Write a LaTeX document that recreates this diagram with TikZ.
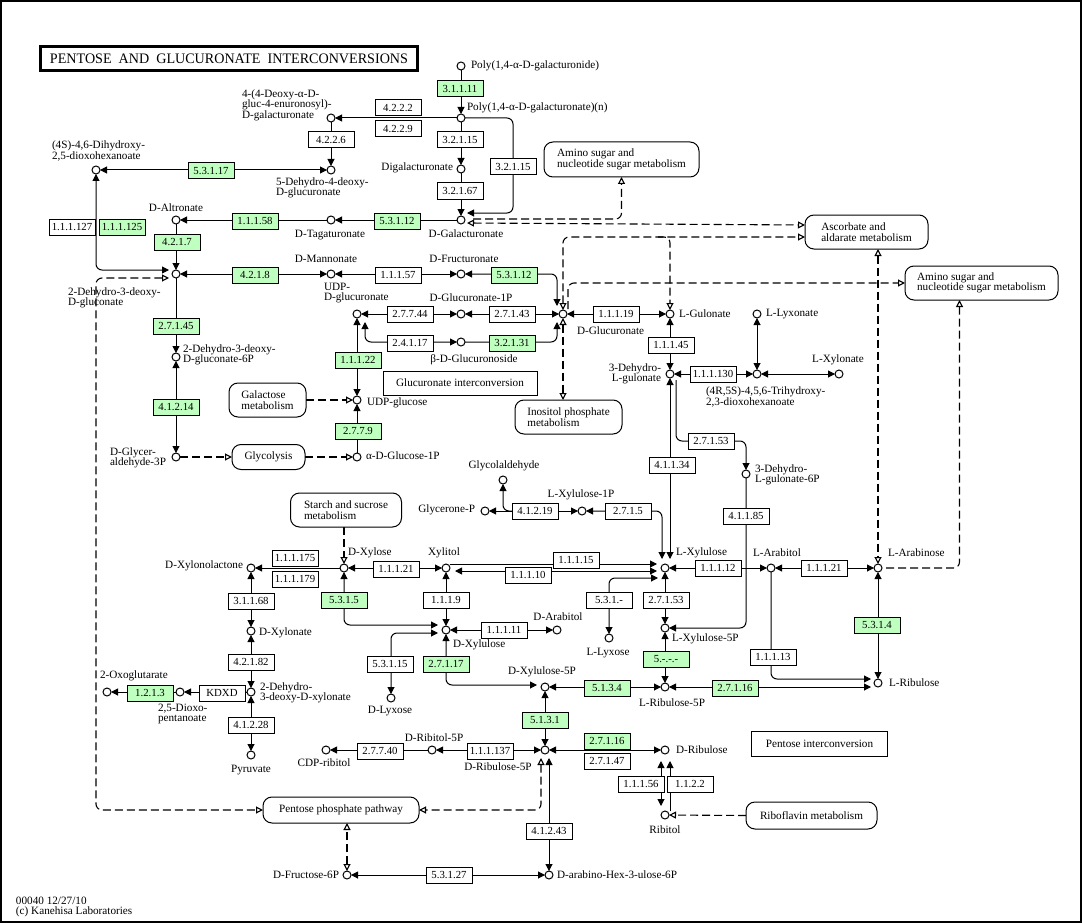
\documentclass[tikz,border=0pt]{standalone}
\usepackage{fontspec}
\setmainfont{Liberation Serif}
\usetikzlibrary{arrows.meta}
\pgfdeclarelayer{bg}
\pgfsetlayers{bg,main}
\definecolor{kgreen}{HTML}{BFFFBF}
\newcommand\kglf{\fontsize{11.2}{10.6}\selectfont}
\newcommand\kgef{\fontsize{10.8}{10.8}\selectfont}
\begin{document}
\begin{tikzpicture}[x=1pt,y=-1pt,
  every node/.style={inner sep=0pt,outer sep=0pt},
  cpd/.style={circle,draw,fill=white,minimum size=8pt,line width=1pt},
  ecb/.style={draw,fill=white,minimum width=46pt,minimum height=16pt,font=\kgef,line width=1pt},
  ecg/.style={ecb,fill=kgreen},
  mapb/.style={draw,fill=white,rounded corners=9pt,align=left,font=\kglf,line width=1pt},
  rectb/.style={draw,fill=white,font=\kglf,line width=1pt},
  lb/.style={font=\kglf,align=left},
  lbr/.style={font=\kglf,align=right},
  ln/.style={line width=1pt,rounded corners=6pt},
  fw/.style={ln,-{Triangle[length=7pt,width=7pt]}},
  bw/.style={ln,{Triangle[length=7pt,width=7pt]}-{Triangle[length=7pt,width=7pt]}},
  dl/.style={line width=1.1pt,dash pattern=on 8pt off 4pt,rounded corners=6pt},
  dfw/.style={dl,-{Triangle[open,length=7pt,width=7pt]}},
  dbw/.style={dl,{Triangle[open,length=7pt,width=7pt]}-{Triangle[open,length=7pt,width=7pt]}},
  dsw/.style={dl,{Triangle[open,length=7pt,width=7pt]}-}
]
\useasboundingbox (0,0) rectangle (1082,923);
\draw[line width=2pt] (1,1) rectangle (1081,922);

% title
\node[draw,line width=3pt,minimum width=377pt,minimum height=24pt] (title) at (229,58.5)
  {\resizebox{358pt}{9.6pt}{\fontsize{12}{12}\selectfont PENTOSE\ \ AND\ \ GLUCURONATE\ \ INTERCONVERSIONS}};

% ---------------- compounds
\node[cpd] (polyg) at (461,66) {};
\node[cpd] (polyn) at (461,118) {};
\node[cpd] (deoxyg) at (331,118) {};
\node[cpd] (dehydro4) at (331,170) {};
\node[cpd] (digal) at (461,169) {};
\node[cpd] (galact) at (461,220) {};
\node[cpd] (dhdx) at (96,170) {};
\node[cpd] (altr) at (176,220) {};
\node[cpd] (tagat) at (331,220) {};
\node[cpd] (kdg) at (176,274) {};
\node[cpd] (mannon) at (331,274) {};
\node[cpd] (fructur) at (461,274) {};
\node[cpd] (udpgluc) at (357,314) {};
\node[cpd] (glcur1p) at (461,314) {};
\node[cpd] (bglcs) at (461,342) {};
\node[cpd] (glcur) at (563,314) {};
\node[cpd] (lgul) at (670,314) {};
\node[cpd] (llyx) at (757,314) {};
\node[cpd] (dhlg) at (670,374) {};
\node[cpd] (trihyd) at (757,374) {};
\node[cpd] (lxyn) at (839,374) {};
\node[cpd] (dhlg6p) at (746,474) {};
\node[cpd] (kdg6p) at (176,357) {};
\node[cpd] (gap) at (176,457) {};
\node[cpd] (udpg) at (357,400) {};
\node[cpd] (aglc1p) at (357,457) {};
\node[cpd] (glyald) at (503,480) {};
\node[cpd] (glyP) at (485,511) {};
\node[cpd] (lxyl1p) at (582,511) {};
\node[cpd] (lxyl) at (665,568) {};
\node[cpd] (larabitol) at (771,568) {};
\node[cpd] (larabinose) at (878,568) {};
\node[cpd] (dxylose) at (344,568) {};
\node[cpd] (xylitol) at (446,568) {};
\node[cpd] (dxylono) at (251,568) {};
\node[cpd] (dxylonate) at (251,631) {};
\node[cpd] (kdx) at (251,692) {};
\node[cpd] (dioxo) at (180,692) {};
\node[cpd] (oxoglut) at (107,692) {};
\node[cpd] (pyruvate) at (251,755) {};
\node[cpd] (dxylulose) at (446,630) {};
\node[cpd] (darabitol) at (557,630) {};
\node[cpd] (dlyxose) at (391,698) {};
\node[cpd] (llyxose) at (609,638) {};
\node[cpd] (lxyl5p) at (665,628) {};
\node[cpd] (lribu5p) at (665,687) {};
\node[cpd] (lribu) at (878,683) {};
\node[cpd] (dxyl5p) at (545,687) {};
\node[cpd] (dribu5p) at (545,750) {};
\node[cpd] (dribitol5p) at (432,750) {};
\node[cpd] (cdpribitol) at (326,750) {};
\node[cpd] (dribu) at (665,750) {};
\node[cpd] (ribitol) at (665,815) {};
\node[cpd] (dfruc6p) at (347,875) {};
\node[cpd] (dahex) at (549,875) {};

% ---------------- compound labels
\node[lb,anchor=west] (polygL) at (471,66) {Poly(1,4-α-D-galacturonide)};
\node[lb,anchor=west] (polynL) at (467,108) {Poly(1,4-α-D-galacturonate)(n)};
\node[lb,anchor=west] (deoxygL) at (242,105) {4-(4-Deoxy-α-D-\\gluc-4-enuronosyl)-\\D-galacturonate};
\node[lb,anchor=west] (dehydro4L) at (276,188) {5-Dehydro-4-deoxy-\\D-glucuronate};
\node[lb,anchor=east] (digalL) at (453,168) {Digalacturonate};
\node[lb] (galactL) at (466,234) {D-Galacturonate};
\node[lb,anchor=west] (dhdxL) at (52,151) {(4S)-4,6-Dihydroxy-\\2,5-dioxohexanoate};
\node[lb] (altrL) at (176,208) {D-Altronate};
\node[lb] (tagatL) at (330,235) {D-Tagaturonate};
\node[lb,anchor=west] (kdgL) at (68,298) {2-Dehydro-3-deoxy-\\D-gluconate};
\node[lb] (mannonL) at (326,259) {D-Mannonate};
\node[lb] (fructurL) at (464,259) {D-Fructuronate};
\node[lb,anchor=west] (udpglucL) at (324,293) {UDP-\\D-glucuronate};
\node[lb] (glcur1pL) at (471,298) {D-Glucuronate-1P};
\node[lb] (bglcsL) at (474,360) {β-D-Glucuronoside};
\node[lb,anchor=west] (glcurL) at (577,331) {D-Glucuronate};
\node[lb,anchor=west] (lgulL) at (679,314) {L-Gulonate};
\node[lb,anchor=west] (llyxL) at (766,314) {L-Lyxonate};
\node[lbr,anchor=east] (dhlgL) at (661,374) {3-Dehydro-\\L-gulonate};
\node[lb,anchor=west] (trihydL) at (706,397) {(4R,5S)-4,5,6-Trihydroxy-\\2,3-dioxohexanoate};
\node[lb] (lxynL) at (838,360) {L-Xylonate};
\node[lb,anchor=west] (dhlg6pL) at (755,475) {3-Dehydro-\\L-gulonate-6P};
\node[lb,anchor=west] (kdg6pL) at (183,355) {2-Dehydro-3-deoxy-\\D-gluconate-6P};
\node[lb,anchor=west] (gapL) at (110,458) {D-Glycer-\\aldehyde-3P};
\node[lb,anchor=west] (udpgL) at (367,403) {UDP-glucose};
\node[lb,anchor=west] (aglc1pL) at (366,456) {α-D-Glucose-1P};
\node[lb] (glyaldL) at (504,466) {Glycolaldehyde};
\node[lb,anchor=east] (glyPL) at (475,510) {Glycerone-P};
\node[lb] (lxyl1pL) at (581,495) {L-Xylulose-1P};
\node[lb,anchor=west] (lxylL) at (676,553) {L-Xylulose};
\node[lb] (larabitolL) at (777,553) {L-Arabitol};
\node[lb,anchor=west] (larabinoseL) at (888,553) {L-Arabinose};
\node[lb,anchor=west] (dxyloseL) at (348,553) {D-Xylose};
\node[lb] (xylitolL) at (444,553) {Xylitol};
\node[lb,anchor=east] (dxylonoL) at (243,566) {D-Xylonolactone};
\node[lb,anchor=west] (dxylonateL) at (259,633) {D-Xylonate};
\node[lb,anchor=west] (kdxL) at (260,693) {2-Dehydro-\\3-deoxy-D-xylonate};
\node[lb,anchor=west] (dioxoL) at (158,714) {2,5-Dioxo-\\pentanoate};
\node[lb,anchor=west] (oxoglutL) at (100,676) {2-Oxoglutarate};
\node[lb] (pyruvateL) at (251,770) {Pyruvate};
\node[lb,anchor=west] (dxyluloseL) at (453,645) {D-Xylulose};
\node[lb] (darabitolL) at (558,617) {D-Arabitol};
\node[lb] (dlyxoseL) at (390,711) {D-Lyxose};
\node[lb] (llyxoseL) at (608,653) {L-Lyxose};
\node[lb,anchor=west] (lxyl5pL) at (672,639) {L-Xylulose-5P};
\node[lb] (lribu5pL) at (672,703) {L-Ribulose-5P};
\node[lb,anchor=west] (lribuL) at (889,683) {L-Ribulose};
\node[lb] (dxyl5pL) at (542,672) {D-Xylulose-5P};
\node[lb] (dribu5pL) at (498,767) {D-Ribulose-5P};
\node[lb] (dribitol5pL) at (434,738) {D-Ribitol-5P};
\node[lb] (cdpribitolL) at (324,763) {CDP-ribitol};
\node[lb,anchor=west] (dribuL) at (676,750) {D-Ribulose};
\node[lb] (ribitolL) at (665,830) {Ribitol};
\node[lb,anchor=east] (dfruc6pL) at (339,875) {D-Fructose-6P};
\node[lb,anchor=west] (dahexL) at (557,875) {D-arabino-Hex-3-ulose-6P};

% ---------------- enzyme boxes
\node[ecg] (e1) at (460,89) {3.1.1.11};
\node[ecb] (e2) at (398,108) {4.2.2.2};
\node[ecb] (e3) at (398,129) {4.2.2.9};
\node[ecb] (e4) at (331,140) {4.2.2.6};
\node[ecb] (e5) at (460,140) {3.2.1.15};
\node[ecb] (e6) at (513,167) {3.2.1.15};
\node[ecb] (e7) at (460,191) {3.2.1.67};
\node[ecg] (e8) at (211,171) {5.3.1.17};
\node[ecg] (e9) at (255,221) {1.1.1.58};
\node[ecg] (e10) at (397,221) {5.3.1.12};
\node[ecb] (e11) at (72,227) {1.1.1.127};
\node[ecg] (e12) at (122,227) {1.1.1.125};
\node[ecg] (e13) at (177,242) {4.2.1.7};
\node[ecg] (e14) at (255,275) {4.2.1.8};
\node[ecb] (e15) at (398,275) {1.1.1.57};
\node[ecg] (e16) at (514,275) {5.3.1.12};
\node[ecb] (e17) at (616,314) {1.1.1.19};
\node[ecb] (e18) at (410,314) {2.7.7.44};
\node[ecb] (e19) at (512,314) {2.7.1.43};
\node[ecb] (e20) at (410,343) {2.4.1.17};
\node[ecg] (e21) at (512,343) {3.2.1.31};
\node[ecg] (e22) at (358,360) {1.1.1.22};
\node[ecg] (e23) at (358,431) {2.7.7.9};
\node[ecg] (e24) at (176,326) {2.7.1.45};
\node[ecg] (e25) at (176,407) {4.1.2.14};
\node[ecb] (e26) at (671,345) {1.1.1.45};
\node[ecb] (e27) at (713,374) {1.1.1.130};
\node[ecb] (e28) at (711,441) {2.7.1.53};
\node[ecb] (e29) at (672,465) {4.1.1.34};
\node[ecb] (e30) at (746,516) {4.1.1.85};
\node[ecb] (e31) at (628,511) {2.7.1.5};
\node[ecb] (e32) at (535,511) {4.1.2.19};
\node[ecb] (e33) at (295,558) {1.1.1.175};
\node[ecb] (e34) at (295,579) {1.1.1.179};
\node[ecb] (e35) at (396,569) {1.1.1.21};
\node[ecb] (e36) at (576,560) {1.1.1.15};
\node[ecb] (e37) at (528,575) {1.1.1.10};
\node[ecg] (e38) at (344,600) {5.3.1.5};
\node[ecb] (e39) at (446,600) {1.1.1.9};
\node[ecb] (e40) at (504,630) {1.1.1.11};
\node[ecb] (e41) at (390,664) {5.3.1.15};
\node[ecg] (e42) at (446,664) {2.7.1.17};
\node[ecg] (e43) at (545,720) {5.1.3.1};
\node[ecb] (e44) at (380,751) {2.7.7.40};
\node[ecb] (e45) at (490,751) {1.1.1.137};
\node[ecb] (e46) at (609,600) {5.3.1.-};
\node[ecb] (e47) at (666,600) {2.7.1.53};
\node[ecg] (e48) at (666,659) {5.-.-.-};
\node[ecg] (e49) at (607,688) {5.1.3.4};
\node[ecg] (e50) at (735,688) {2.7.1.16};
\node[ecb] (e51) at (718,568) {1.1.1.12};
\node[ecb] (e52) at (824,568) {1.1.1.21};
\node[ecb] (e53) at (773,657) {1.1.1.13};
\node[ecg] (e54) at (877,625) {5.3.1.4};
\node[ecg] (e55) at (607,741) {2.7.1.16};
\node[ecb] (e56) at (607,761) {2.7.1.47};
\node[ecb] (e57) at (641,784) {1.1.1.56};
\node[ecb] (e58) at (690,784) {1.1.2.2};
\node[ecb] (e59) at (549,831) {4.1.2.43};
\node[ecb] (e60) at (449,875) {5.3.1.27};
\node[ecb] (e61) at (251,601) {3.1.1.68};
\node[ecb] (e62) at (251,662) {4.2.1.82};
\node[ecb] (e63) at (222,693) {KDXD};
\node[ecg] (e64) at (150,693) {1.2.1.3};
\node[ecb] (e65) at (251,725) {4.1.2.28};

% ---------------- maps and titles
\node[mapb,minimum width=155pt,minimum height=35pt] (amino1) at (621.5,159.5) {Amino sugar and\\nucleotide sugar metabolism};
\node[mapb,minimum width=123pt,minimum height=34pt] (ascorb) at (866.5,232) {Ascorbate and\\aldarate metabolism};
\node[mapb,minimum width=153pt,minimum height=34pt] (amino2) at (981.5,283) {Amino sugar and\\nucleotide sugar metabolism};
\node[mapb,minimum width=77pt,minimum height=34pt] (galactose) at (267.5,400) {Galactose\\metabolism};
\node[mapb,minimum width=73pt,minimum height=25pt] (glycolysis) at (268.5,457) {Glycolysis};
\node[mapb,minimum width=107pt,minimum height=34pt] (inositol) at (568.5,417) {Inositol phosphate\\metabolism};
\node[mapb,minimum width=111pt,minimum height=34pt] (starch) at (346,510) {Starch and sucrose\\metabolism};
\node[mapb,minimum width=156pt,minimum height=26pt] (pentosePP) at (341,810) {Pentose phosphate pathway};
\node[mapb,minimum width=131pt,minimum height=27pt] (riboflavin) at (811.5,815.5) {Riboflavin metabolism};
\node[rectb,minimum width=154pt,minimum height=24pt] (glucIC) at (460,383) {Glucuronate interconversion};
\node[rectb,minimum width=136pt,minimum height=25pt] (pentIC) at (819.5,744) {Pentose interconversion};
\node[lb,anchor=west] (copy) at (16,907) {00040 12/27/10\\(c) Kanehisa Laboratories};

% ---------------- connectors
\begin{pgfonlayer}{bg}
\draw[fw] (polyg) -- (polyn);
\draw[fw] (polyn) -- (deoxyg);
\draw[fw] (deoxyg) -- (dehydro4);
\draw[fw] (polyn) -- (digal);
\draw[fw] (digal) -- (galact);
\draw[fw] (polyn) -| (e6.center) |- ([shift={(6,-7)}]galact.center);
\draw[bw] (dhdx) -- (dehydro4);
\draw[fw] (galact) -- (tagat);
\draw[fw] (tagat) -- (altr);
\draw[fw] (altr) -- (kdg);
\draw[bw] (dhdx) |- ([shift={(-7,-4)}]kdg.center);
\draw[bw] (kdg) -- (mannon);
\draw[bw] (mannon) -- (fructur);
\draw[bw] (fructur) -| ([shift={(-6,-8)}]glcur.center);
\draw[bw] (glcur) -- (lgul);
\draw[bw] (glcur1p) -- (glcur);
\draw[bw] (udpgluc) -- (glcur1p);
\draw[bw] ([shift={(8,8)}]udpgluc.center) |- (bglcs);
\draw[fw] (bglcs) -| ([shift={(-6,8)}]glcur.center);
\draw[bw] (udpg) -- (udpgluc);
\draw[fw] (aglc1p) -- (udpg);
\draw[fw] (kdg) -- (kdg6p);
\draw[bw] (kdg6p) -- (gap);
\draw[bw] (lgul) -- (dhlg);
\draw[bw] (dhlg) -- (trihyd);
\draw[bw] (llyx) -- (trihyd);
\draw[bw] (trihyd) -- (lxyn);
\draw[fw] ([shift={(6,6)}]dhlg.center) |- (e28.center) -| (dhlg6p);
\draw[bw] ([shift={(5,-9)}]lxyl.center) -- (dhlg);
\draw[bw] (lxyl1p) -| ([shift={(-3,-9)}]lxyl.center);
\draw[bw] (glyP) -- (lxyl1p);
\draw[fw] (e32.west) -| (glyald);
\draw[bw] (lxyl) -- (larabitol);
\draw[bw] (larabitol) -- (larabinose);
\draw[bw] (larabinose) -- (lribu);
\draw[fw] (larabitol) |- ([shift={(-7,-4)}]lribu.center);
\draw[bw] ([shift={(-7,4)}]lribu.center) -- (lribu5p);
\draw[bw] (lxyl) -- (lxyl5p);
\draw[bw] (lxyl5p) -- (lribu5p);
\draw[fw] (dhlg6p) |- (lxyl5p);
\draw[bw] ([shift={(-7,10)}]lxyl.center) -| (llyxose);
\draw[fw] ([shift={(4,-4)}]xylitol.center) -- ([shift={(-8,-4)}]lxyl.center);
\draw[bw] ([shift={(9,3)}]xylitol.center) -- ([shift={(-8,3)}]lxyl.center);
\draw[bw] (dxylose) -- (xylitol);
\draw[fw] (dxylose) -- (dxylono);
\draw[bw] (dxylono) -- (dxylonate);
\draw[bw] (dxylonate) -- (kdx);
\draw[fw] (kdx) -- (dioxo);
\draw[fw] (dioxo) -- (oxoglut);
\draw[bw] (kdx) -- (pyruvate);
\draw[bw] (dxylose) |- ([shift={(-8,-5)}]dxylulose.center);
\draw[bw] (xylitol) -- (dxylulose);
\draw[bw] (dxylulose) -- (darabitol);
\draw[bw] ([shift={(-8,3)}]dxylulose.center) -| (dlyxose);
\draw[bw] (dxylulose) |- ([shift={(-8,-2)}]dxyl5p.center);
\draw[bw] (dxyl5p) -- (lribu5p);
\draw[bw] (dxyl5p) -- (dribu5p);
\draw[bw] (dribu5p) -- (dribitol5p);
\draw[fw] (dribitol5p) -- (cdpribitol);
\draw[bw] (dribu5p) -- (dribu);
\draw[bw] ([shift={(-4,11)}]dribu.center) -- ([shift={(-4,-9)}]ribitol.center);
\draw[fw] ([shift={(5,-4)}]ribitol.center) -- ([shift={(5,11)}]dribu.center);
\draw[bw] ([shift={(4,8)}]dribu5p.center) -- (dahex);
\draw[bw] (dfruc6p) -- (dahex);
% dashed map links
\draw[dbw] ([shift={(6,3)}]galact.center) -- ([shift={(0,-7)}]ascorb.west);
\draw[dfw] ([shift={(12,-1)}]galact.center) -| (amino1.south);
\draw[dbw] (glcur) |- ([shift={(0,5)}]ascorb.west);
\draw[dfw] ([shift={(-12,5)}]lgul |- ascorb.west) -- ([shift={(0,5)}]lgul |- ascorb.west) -- (lgul);
\draw[dfw] ([shift={(5,-5)}]glcur.center) |- (amino2.west);
\draw[dbw] (larabinose |- ascorb.south) -- (larabinose);
\draw[dsw] ([shift={(-22,0)}]amino2.south) |- (larabinose);
\draw[dbw] ([shift={(-7,4)}]kdg.center) -| (dhdx |- pentosePP.west) -- (pentosePP.west);
\draw[dbw] ([shift={(-4,8)}]dribu5p.center) |- (pentosePP.east);
\draw[dbw] (dfruc6p) -- (dfruc6p |- pentosePP.south);
\draw[dfw] (dxylose |- starch.south) -- (dxylose);
\draw[dfw] (riboflavin.west) -- (ribitol);
\draw[dfw] (gap) -- (glycolysis);
\draw[dfw] (glycolysis) -- (aglc1p);
\draw[dfw] (galactose) -- (udpg);
\draw[dbw] (glcur) -- (glcur |- inositol.north);
\end{pgfonlayer}
\end{tikzpicture}
\end{document}
